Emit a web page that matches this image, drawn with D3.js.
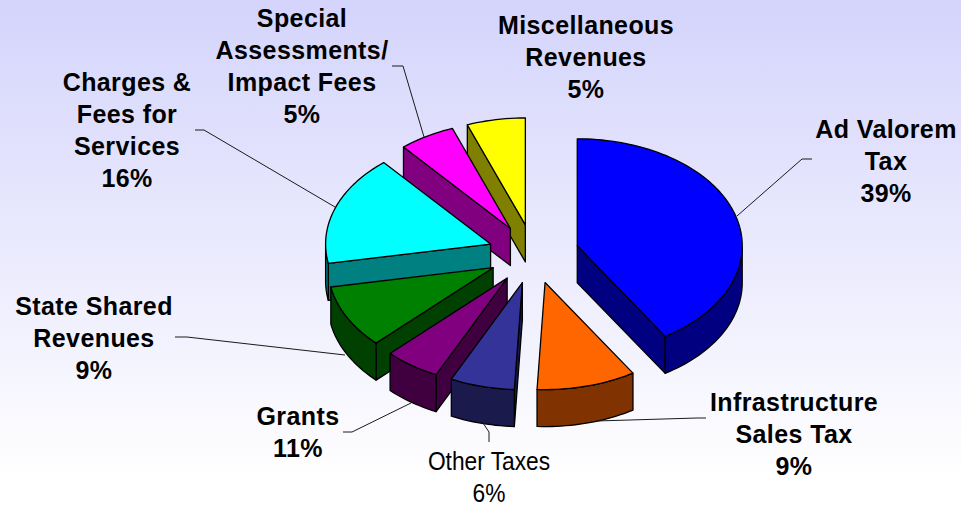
<!DOCTYPE html>
<html>
<head>
<meta charset="utf-8">
<script src="https://cdnjs.cloudflare.com/ajax/libs/d3/7.8.5/d3.min.js"></script>
<style>
html,body{margin:0;padding:0;background:#fff;}
svg{display:block;}
text{font-family:"Liberation Sans",Arial,sans-serif;fill:#000;}
</style>
</head>
<body>
<svg id="chart" width="961" height="507"></svg>
<script>
// Data
const categories = ["Ad Valorem Tax","Infrastructure Sales Tax","Other Taxes","Grants","State Shared Revenues","Charges & Fees for Services","Special Assessments/ Impact Fees","Miscellaneous Revenues"];
const labelPercents = [39,9,6,11,9,16,5,5];            // as printed on the labels
const sliceShares = [41.06,9.72,6.31,5.47,9.56,16.67,5.5,5.72]; // as drawn (slice sweep, % of circle)
const topColors = ["#0000ff","#ff6600","#333399","#800080","#008000","#00ffff","#ff00ff","#ffff00"];
const sideColors = ["#000080","#803300","#1a1a4d","#400040","#004000","#008080","#800080","#808000"];
const labelLines = [["Ad Valorem","Tax"],["Infrastructure","Sales Tax"],["Other Taxes"],["Grants"],["State Shared","Revenues"],["Charges &","Fees for","Services"],["Special","Assessments/","Impact Fees"],["Miscellaneous","Revenues"]];

// Layout
const W=961,H=507,CX=533.5,CY=254,RX=165,RY=107,EXPLODE=0.276,DEPTH=37;
const labelPos=[
 {x:886,y:138},{x:794,y:411},{x:489,y:470,narrow:true},{x:298,y:425},
 {x:94,y:315},{x:127,y:91},{x:302,y:27},{x:586,y:34}];
const leaders=[
 [[812,159],[802,159],[737,216]],
 [[706,418],[697,418],[596,421]],
 [[489,442],[489,432],[483,423]],
 [[343,432],[352,432],[411,403]],
 [[175,337],[187,337],[345,355]],
 [[195,130],[204,130],[335,207]],
 [[392,66],[403,66],[424,137]]
];

const svg=d3.select("#chart");
const defs=svg.append("defs");
const grad=defs.append("linearGradient").attr("id","bg").attr("x1",0).attr("y1",0).attr("x2",0).attr("y2",1);
grad.append("stop").attr("offset","0%").attr("stop-color","#d4d4fc");
grad.append("stop").attr("offset","95%").attr("stop-color","#ffffff");
svg.append("rect").attr("width",W).attr("height",H).attr("fill","url(#bg)");

const x=d3.scaleLinear().domain([-1,1]).range([CX-RX,CX+RX]);
const y=d3.scaleLinear().domain([-1,1]).range([CY-RY,CY+RY]);
const line=d3.line().x(d=>x(d[0])).y(d=>y(d[1])+(d[2]||0));

const pie=d3.pie().sort(null).value(d=>d);
const arcs=pie(sliceShares).map((a,i)=>{
  const mid=(a.startAngle+a.endAngle)/2;
  return {i,a0:a.startAngle,a1:a.endAngle,ax:EXPLODE*Math.sin(mid),ay:-EXPLODE*Math.cos(mid)};
});
const rim=(s,t)=>[s.ax+Math.sin(t),s.ay-Math.cos(t)];
const order=arcs.slice().sort((p,q)=>p.ay-q.ay);
const g=svg.append("g").attr("stroke","#000").attr("stroke-width",1.3).attr("stroke-linejoin","round");

order.forEach(s=>{
  const apex=[s.ax,s.ay];
  const n=Math.max(8,Math.ceil((s.a1-s.a0)/0.03));
  const ts=d3.range(n+1).map(k=>s.a0+(s.a1-s.a0)*k/n);
  const quad=(p,q)=>[[p[0],p[1],0],[q[0],q[1],0],[q[0],q[1],DEPTH],[p[0],p[1],DEPTH]];
  const side=g.append("g").attr("fill",sideColors[s.i]);
  const p0=rim(s,s.a0),p1=rim(s,s.a1);
  // radial faces, visible only when the edge runs leftward in clockwise order
  if(p0[0]<apex[0]) side.append("path").attr("d",line(quad(apex,p0))+"Z");
  if(apex[0]<p1[0]) side.append("path").attr("d",line(quad(p1,apex))+"Z");
  // outer wall: part of the rim facing the viewer
  const front=ts.filter(t=>t>=Math.PI/2&&t<=3*Math.PI/2);
  if(front.length>1){
    const pts=front.map(t=>rim(s,t));
    const wall=pts.map(p=>[p[0],p[1],0]).concat(pts.slice().reverse().map(p=>[p[0],p[1],DEPTH]));
    side.append("path").attr("d",line(wall)+"Z");
  }
  // top face
  const top=[apex].concat(ts.map(t=>rim(s,t)));
  g.append("path").attr("fill",topColors[s.i]).attr("d",line(top)+"Z");
});

// Leader lines
const lead=d3.line();
svg.append("g").attr("fill","none").attr("stroke","#1a1a1a").attr("stroke-width",1)
  .selectAll("path").data(leaders).join("path").attr("d",d=>lead(d));

// Labels
const LH=32;
categories.forEach((c,i)=>{
  const pos=labelPos[i];
  const lines=labelLines[i].concat([labelPercents[i]+"%"]);
  const t=svg.append("text").attr("text-anchor","middle")
    .attr("font-size",25)
    .attr("font-weight",pos.narrow?400:700)
    .attr("letter-spacing",pos.narrow?0:0.4)
    .attr("transform",`translate(${pos.x},0) scale(${pos.narrow?0.91:1},1)`);
  lines.forEach((l,k)=>t.append("tspan").attr("x",0).attr("y",pos.y+k*LH).text(l));
});
</script>
</body>
</html>
